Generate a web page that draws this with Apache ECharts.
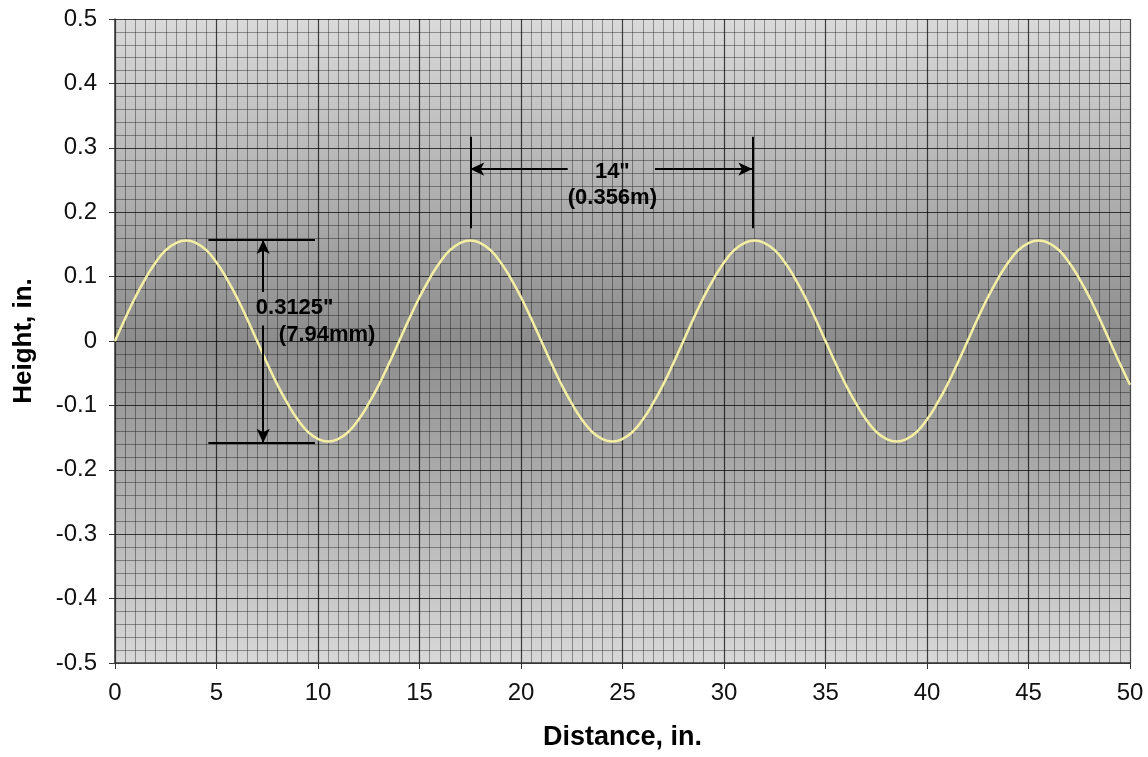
<!DOCTYPE html>
<html>
<head>
<meta charset="utf-8">
<script src="https://cdn.jsdelivr.net/npm/echarts@6/dist/echarts.min.js"></script>
<style>html,body{margin:0;padding:0;background:#fff}#c{width:1148px;height:757px}</style>
</head>
<body>
<div id="c"></div>
<script>
// Distance (in.) sampled every 0.5 in.
const distances = [];
for (let i = 0; i <= 100; i++) distances.push(i * 0.5);
// Height (in.)
const heights = [
  0, 0.035, 0.068, 0.097, 0.122, 0.141, 0.152, 0.156, 0.152, 0.141, 0.122, 0.097, 0.068, 0.035,
  0, -0.035, -0.068, -0.097, -0.122, -0.141, -0.152, -0.156, -0.152, -0.141, -0.122, -0.097, -0.068, -0.035,
  0, 0.035, 0.068, 0.097, 0.122, 0.141, 0.152, 0.156, 0.152, 0.141, 0.122, 0.097, 0.068, 0.035,
  0, -0.035, -0.068, -0.097, -0.122, -0.141, -0.152, -0.156, -0.152, -0.141, -0.122, -0.097, -0.068, -0.035,
  0, 0.035, 0.068, 0.097, 0.122, 0.141, 0.152, 0.156, 0.152, 0.141, 0.122, 0.097, 0.068, 0.035,
  0, -0.035, -0.068, -0.097, -0.122, -0.141, -0.152, -0.156, -0.152, -0.141, -0.122, -0.097, -0.068, -0.035,
  0, 0.035, 0.068, 0.097, 0.122, 0.141, 0.152, 0.156, 0.152, 0.141, 0.122, 0.097, 0.068, 0.035,
  0, -0.035, -0.068
];
const xTicks = [0, 5, 10, 15, 20, 25, 30, 35, 40, 45, 50];
const yTicks = [-0.5, -0.4, -0.3, -0.2, -0.1, 0, 0.1, 0.2, 0.3, 0.4, 0.5];
const xTitle = 'Distance, in.';
const yTitle = 'Height, in.';
// Annotation values
const ampLabel = ['0.3125"', '(7.94mm)'];
const waveLabel = ['14"', '(0.356m)'];
const peakY = 0.157, troughY = -0.158;
const ampBarX = [4.6, 9.85], ampArrowX = 7.3;
const waveStartX = 17.5, waveEndX = 31.4, waveLineY = [0.175, 0.317], waveArrowY = 0.267;

const font = '"Liberation Sans", Arial, sans-serif';
const chart = echarts.init(document.getElementById('c'));

const seg = (a, b, s1, s2) => [
  {coord: a, symbol: s1 || 'none'},
  {coord: b, symbol: s2 || 'none'}
];
const txt = (x, y, t) => ({coord: [x, y], value: t});

chart.setOption({
  animation: false,
  grid: {
    left: 115, right: 18, top: 19, bottom: 94, show: true, borderWidth: 0,
    backgroundColor: new echarts.graphic.LinearGradient(0, 0, 0, 1, [
      {offset: 0, color: '#dadada'},
      {offset: 0.5, color: '#8c8c8c'},
      {offset: 1, color: '#d8d8d8'}
    ])
  },
  xAxis: {
    type: 'value', min: 0, max: 50, interval: 5,
    name: xTitle, nameLocation: 'middle', nameGap: 61,
    nameTextStyle: {fontFamily: font, fontSize: 27, fontWeight: 'bold', color: '#000'},
    axisLine: {show: true, onZero: false, lineStyle: {color: '#333', width: 1.5}},
    axisTick: {show: true, length: 6, lineStyle: {color: '#333'}},
    axisLabel: {fontFamily: font, fontSize: 24, color: '#111', margin: 18,
      formatter: v => xTicks.includes(v) ? String(v) : ''},
    splitLine: {show: true, lineStyle: {color: 'rgba(0,0,0,0.72)', width: 1.2}},
    minorTick: {show: false, splitNumber: 10},
    minorSplitLine: {show: true, lineStyle: {color: 'rgba(0,0,0,0.36)', width: 1}}
  },
  yAxis: {
    type: 'value', min: -0.5, max: 0.5, interval: 0.1,
    name: yTitle, nameLocation: 'middle', nameGap: 78, nameRotate: 90,
    nameTextStyle: {fontFamily: font, fontSize: 26, fontWeight: 'bold', color: '#000'},
    axisLine: {show: true, onZero: false, lineStyle: {color: '#333', width: 1.5}},
    axisTick: {show: true, length: 6, lineStyle: {color: '#333'}},
    axisLabel: {fontFamily: font, fontSize: 24, color: '#111', margin: 18,
      formatter: v => {
        const r = Math.round(v * 10) / 10;
        const t = yTicks.find(k => Math.abs(k - r) < 1e-9);
        return t === undefined ? '' : String(t);
      }},
    splitLine: {show: true, lineStyle: {color: 'rgba(0,0,0,0.72)', width: 1.2}},
    minorTick: {show: false, splitNumber: 5},
    minorSplitLine: {show: true, lineStyle: {color: 'rgba(0,0,0,0.36)', width: 1}}
  },
  series: [
    {
      type: 'line', smooth: true, symbol: 'none',
      data: distances.map((d, i) => [d, heights[i]]),
      lineStyle: {color: '#f4efa2', width: 2.5},
      z: 3
    },
    {
      type: 'line', data: [], symbol: 'none', z: 4,
      markLine: {
        silent: true, animation: false,
        symbolSize: [10, 14],
        label: {show: false},
        lineStyle: {color: '#000', width: 2, type: 'solid'},
        emphasis: {disabled: true},
        data: [
          seg([ampBarX[0], peakY], [ampBarX[1], peakY]),
          seg([ampBarX[0], troughY], [ampBarX[1], troughY]),
          seg([ampArrowX, 0.076], [ampArrowX, peakY], 'none', 'arrow'),
          seg([ampArrowX, 0.024], [ampArrowX, troughY], 'none', 'arrow'),
          seg([waveStartX, waveLineY[0]], [waveStartX, waveLineY[1]]),
          seg([waveEndX, waveLineY[0]], [waveEndX, waveLineY[1]]),
          seg([22.3, waveArrowY], [waveStartX, waveArrowY], 'none', 'arrow'),
          seg([26.6, waveArrowY], [waveEndX, waveArrowY], 'none', 'arrow')
        ]
      },
      markPoint: {
        silent: true, symbol: 'circle', symbolSize: 0,
        label: {show: true, position: 'inside', color: '#000', fontFamily: font,
          fontSize: 22, fontWeight: 'bold', formatter: p => p.value},
        data: [
          txt(24.5, 0.262, waveLabel[0]),
          txt(24.5, 0.222, waveLabel[1]),
          txt(8.85, 0.052, ampLabel[0]),
          txt(10.45, 0.01, ampLabel[1])
        ]
      }
    }
  ]
});
</script>
</body>
</html>
